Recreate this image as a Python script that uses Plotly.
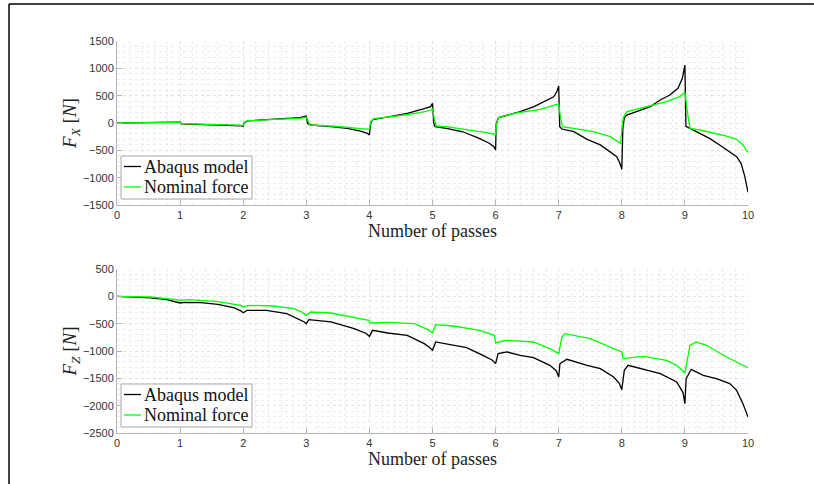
import plotly.graph_objects as go

# ---- Horizontal force F_X versus number of passes ----
fx_abaqus_x = [0, 0.5, 0.98, 1.0, 1.02, 1.34, 1.76, 1.97, 2.0, 2.02, 2.08, 2.37, 2.69, 2.9, 2.99, 3.0,
               3.02, 3.07, 3.39, 3.65, 3.86, 3.97, 4.0, 4.02, 4.05, 4.29, 4.6, 4.87, 4.97, 5.0,
               5.02, 5.04, 5.22, 5.48, 5.74, 5.9, 5.97, 6.0, 6.01, 6.05, 6.18, 6.39, 6.61, 6.76,
               6.92, 6.97, 7.0, 7.016, 7.05, 7.24, 7.45, 7.66, 7.82, 7.92, 7.97, 8.0, 8.016, 8.04,
               8.08, 8.29, 8.45, 8.61, 8.76, 8.89, 8.96, 9.0, 9.016, 9.08, 9.24, 9.39, 9.55, 9.71,
               9.82, 9.89, 9.95, 10.0]
fx_abaqus_y = [0, 8, 15, 15, -15, -24, -37, -50, -58, 10, 40, 60, 80, 100, 125, 128,
               -10, -37, -67, -98, -150, -190, -220, -5, 60, 110, 175, 265, 300, 360,
               -5, -67, -98, -160, -280, -370, -430, -495, -5, 100, 146, 207, 300, 390,
               480, 570, 676, -67, -110, -159, -300, -400, -524, -616, -737, -847, -116, 98,
               146, 238, 299, 421, 512, 634, 817, 1060, -60, -98, -189, -281, -402, -524,
               -616, -737, -982, -1268]

fx_nominal_x = [0, 0.98, 1.0, 1.03, 1.5, 1.97, 2.0, 2.02, 2.05, 2.5, 2.9, 3.0, 3.02, 3.06, 3.39,
                3.7, 3.92, 4.0, 4.02, 4.07, 4.44, 4.8, 4.99, 5.0, 5.03, 5.06, 5.22, 5.54, 5.85,
                6.0, 6.02, 6.05, 6.29, 6.71, 6.92, 7.0, 7.03, 7.06, 7.24, 7.55, 7.82, 7.95, 7.98,
                8.01, 8.03, 8.08, 8.29, 8.45, 8.71, 8.92, 9.0, 9.04, 9.08, 9.24, 9.5, 9.66, 9.82,
                9.92, 10.0]
fx_nominal_y = [0, 12, 12, -12, -25, -40, -45, -5, 37, 67, 85, 104, 60, -37, -55,
                -85, -98, -116, 24, 79, 128, 189, 237, 270, 60, -55, -67, -116, -177,
                -210, 0, 98, 177, 250, 320, 350, 100, -67, -98, -159, -250, -360, -375,
                0, 115, 207, 268, 311, 390, 481, 560, 200, -98, -128, -189, -238, -299,
                -402, -543]

# ---- Vertical force F_Z versus number of passes ----
fz_abaqus_x = [0, 0.53, 0.79, 0.95, 1.0, 1.07, 1.33, 1.6, 1.86, 1.96, 2.0, 2.06, 2.37, 2.69, 2.9,
               2.97, 3.0, 3.04, 3.39, 3.76, 3.95, 4.0, 4.05, 4.29, 4.6, 4.87, 4.96, 5.0, 5.05,
               5.33, 5.54, 5.8, 5.95, 6.0, 6.04, 6.18, 6.39, 6.6, 6.86, 6.96, 7.0, 7.02, 7.13,
               7.45, 7.66, 7.87, 7.96, 8.0, 8.04, 8.1, 8.29, 8.61, 8.87, 8.97, 9.0, 9.02, 9.1,
               9.29, 9.5, 9.71, 9.82, 9.92, 10.0]
fz_abaqus_y = [0, -30, -60, -100, -122, -110, -116, -146, -213, -265, -299, -256, -256, -317, -427,
               -470, -500, -427, -469, -591, -680, -732, -622, -671, -713, -866, -940, -988, -835,
               -896, -939, -1079, -1170, -1232, -1049, -1018, -1079, -1122, -1262, -1360, -1476, -1232, -1152,
               -1262, -1323, -1476, -1590, -1707, -1354, -1262, -1323, -1415, -1567, -1760, -1963, -1506, -1335,
               -1445, -1506, -1597, -1720, -1963, -2208]

fz_nominal_x = [0, 0.53, 0.95, 1.0, 1.13, 1.6, 1.96, 2.0, 2.1, 2.48, 2.8, 2.93, 3.0, 3.07, 3.39,
                3.76, 3.99, 4.01, 4.29, 4.71, 4.93, 5.0, 5.05, 5.33, 5.75, 5.98, 6.0, 6.18, 6.6,
                6.86, 7.0, 7.05, 7.1, 7.5, 7.92, 8.0, 8.02, 8.34, 8.71, 8.87, 9.0, 9.08, 9.18,
                9.34, 9.66, 10.0]
fz_nominal_y = [0, -12, -60, -73, -61, -98, -165, -195, -165, -177, -226, -290, -348, -287, -305,
                -390, -440, -488, -475, -500, -610, -671, -518, -543, -622, -713, -847, -805, -835,
                -957, -1049, -744, -683, -774, -988, -1018, -1140, -1097, -1171, -1262, -1403, -896, -835,
                -896, -1110, -1304]

series_names = ["Abaqus model", "Nominal force"]
x_ticks = list(range(0, 11))
fx_ticks = [-1500, -1000, -500, 0, 500, 1000, 1500]
fz_ticks = [-2500, -2000, -1500, -1000, -500, 0, 500]

ABAQUS_COLOR = "#000000"
NOMINAL_COLOR = "#00ff00"
SERIES_COLORS = [ABAQUS_COLOR, NOMINAL_COLOR]
SERIF = "Liberation Serif, Times New Roman, DejaVu Serif, serif"
SANS = "Liberation Sans, Arial, sans-serif"
AXIS_GRAY = "#b5b5b5"
GRID_MAJOR = "#e2e2e2"
GRID_MINOR = "#ececec"

W, H = 814, 484


def px_x(p):
    return p / W


def px_y(p):
    return 1 - p / H


fig = go.Figure()

for xs, ys, name, color, xa, ya in [
    (fx_abaqus_x, fx_abaqus_y, series_names[0], ABAQUS_COLOR, "x", "y"),
    (fx_nominal_x, fx_nominal_y, series_names[1], NOMINAL_COLOR, "x", "y"),
    (fz_abaqus_x, fz_abaqus_y, series_names[0], ABAQUS_COLOR, "x2", "y2"),
    (fz_nominal_x, fz_nominal_y, series_names[1], NOMINAL_COLOR, "x2", "y2"),
]:
    fig.add_trace(go.Scatter(x=xs, y=ys, mode="lines", name=name, showlegend=False,
                             line=dict(color=color, width=1.3), xaxis=xa, yaxis=ya))


def xaxis_style(anchor):
    return dict(
        domain=[px_x(117), px_x(748)], anchor=anchor, range=[0, 10],
        tickvals=x_ticks, ticks="inside", ticklen=5, tickcolor=AXIS_GRAY,
        showline=True, linecolor=AXIS_GRAY, linewidth=1, mirror=False,
        showgrid=True, gridcolor=GRID_MAJOR, griddash="dot", gridwidth=1,
        minor=dict(dtick=0.2, showgrid=True, gridcolor=GRID_MINOR, griddash="dot", gridwidth=1, ticks=""),
        zeroline=False, automargin=False,
        tickfont=dict(family=SANS, size=11, color="#333333"),
        title=dict(text="Number of passes", font=dict(family=SERIF, size=18, color="#222222"), standoff=2),
    )


def yaxis_style(anchor, top, bottom, rng, ticks, title):
    return dict(
        domain=[px_y(bottom), px_y(top)], anchor=anchor, range=rng,
        tickvals=ticks, ticks="inside", ticklen=5, tickcolor=AXIS_GRAY,
        showline=True, linecolor=AXIS_GRAY, linewidth=1, mirror=False,
        showgrid=True, gridcolor=GRID_MAJOR, griddash="dot", gridwidth=1,
        minor=dict(dtick=100, showgrid=True, gridcolor=GRID_MINOR, griddash="dot", gridwidth=1, ticks=""),
        zeroline=False, automargin=False,
        tickfont=dict(family=SANS, size=11, color="#333333"),
        title=dict(text=title, font=dict(family=SERIF, size=19, color="#222222"), standoff=1),
    )


# Boxed legends drawn in page pixels (top-left corner of each panel)
shapes = [
    dict(type="line", xref="paper", yref="paper", x0=px_x(9), x1=1.0, y0=px_y(4), y1=px_y(4),
         line=dict(color="black", width=1.5)),
    dict(type="line", xref="paper", yref="paper", x0=px_x(9), x1=px_x(9), y0=px_y(4), y1=0.0,
         line=dict(color="black", width=1.5)),
]
annotations = []
for box_top in (156, 384):
    box_left, box_w, box_h = 121, 131, 43
    shapes.append(dict(type="rect", xref="paper", yref="paper", layer="above",
                       x0=px_x(box_left), x1=px_x(box_left + box_w),
                       y0=px_y(box_top + box_h), y1=px_y(box_top),
                       fillcolor="white", line=dict(color="#a8a8a8", width=1)))
    for i, (name, color) in enumerate(zip(series_names, SERIES_COLORS)):
        row_y = box_top + 10.5 + i * 20.5
        shapes.append(dict(type="line", xref="paper", yref="paper", layer="above",
                           x0=px_x(box_left + 3), x1=px_x(box_left + 20),
                           y0=px_y(row_y), y1=px_y(row_y),
                           line=dict(color=color, width=1.3)))
        annotations.append(dict(xref="paper", yref="paper", x=px_x(box_left + 21), y=px_y(row_y),
                                xanchor="left", yanchor="middle", showarrow=False, text=name,
                                font=dict(family=SERIF, size=18, color="#111111")))

fig.update_layout(
    width=W, height=H, margin=dict(l=0, r=0, t=0, b=0),
    font=dict(family=SERIF, size=17, color="#111111"),
    paper_bgcolor="white", plot_bgcolor="white",
    showlegend=False,
    xaxis=xaxis_style("y"),
    yaxis=yaxis_style("x", 41, 205, [-1500, 1500], fx_ticks,
                      "<i>F</i><sub><i>X</i></sub> [<i>N</i>]"),
    xaxis2=xaxis_style("y2"),
    yaxis2=yaxis_style("x2", 269, 433, [-2500, 500], fz_ticks,
                       "<i>F</i><sub><i>Z</i></sub> [<i>N</i>]"),
    shapes=shapes,
    annotations=annotations,
)

fig.write_html("out.html")
